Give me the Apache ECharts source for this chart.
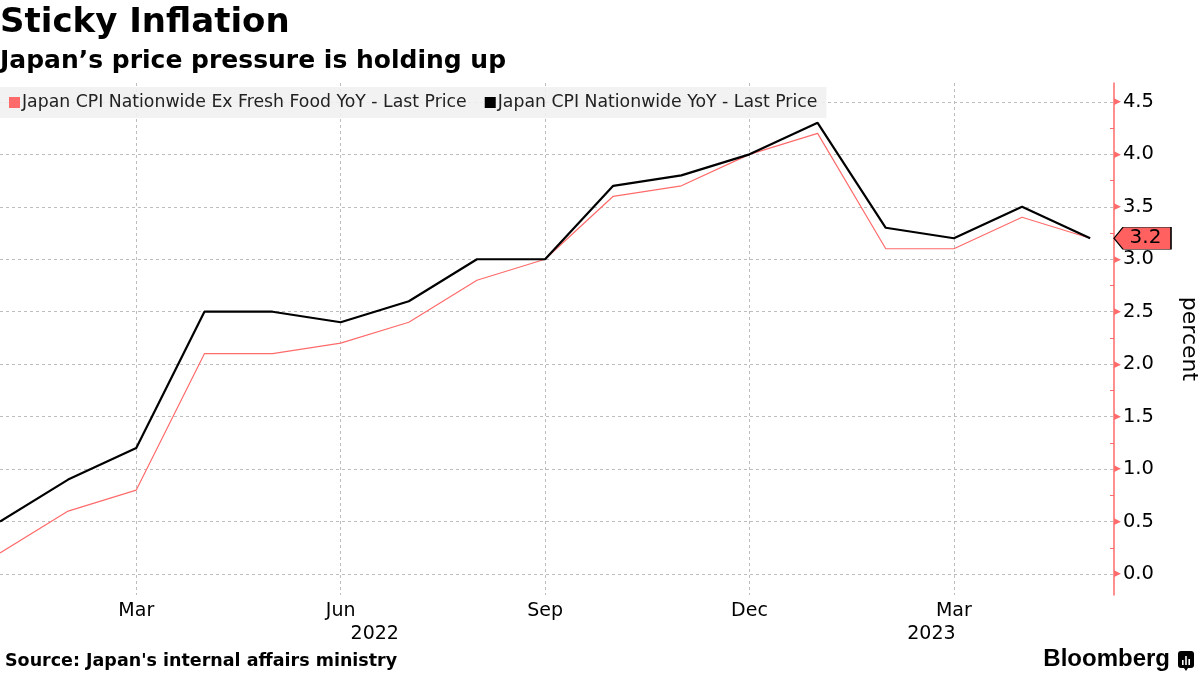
<!DOCTYPE html>
<html>
<head>
<meta charset="utf-8">
<script src="https://cdn.jsdelivr.net/npm/echarts@6/dist/echarts.min.js"></script>
<style>
html,body{margin:0;padding:0;background:#fff;}
#c{width:1200px;height:675px;}
</style>
</head>
<body>
<div id="c"></div>
<script>
// Data (monthly, Jan 2022 .. May 2023)
const months = ['2022-01','2022-02','2022-03','2022-04','2022-05','2022-06','2022-07','2022-08','2022-09','2022-10','2022-11','2022-12','2023-01','2023-02','2023-03','2023-04','2023-05'];
const coreCPI = [0.2,0.6,0.8,2.1,2.1,2.2,2.4,2.8,3.0,3.6,3.7,4.0,4.2,3.1,3.1,3.4,3.2];
const headlineCPI = [0.5,0.9,1.2,2.5,2.5,2.4,2.6,3.0,3.0,3.7,3.8,4.0,4.3,3.3,3.2,3.5,3.2];
const tickIndex = [2,5,8,11,14];
const tickNames = ['Mar','Jun','Sep','Dec','Mar'];
const yearNames = ['2022','2023'];
const yearPos = [5.5,13.67];
const seriesNames = ['Japan CPI Nationwide Ex Fresh Food YoY - Last Price','Japan CPI Nationwide YoY - Last Price'];

const RED = '#ff6b6b';
const X_MAX = 16.35;
const font = 'DejaVu Sans';

const chart = echarts.init(document.getElementById('c'), null, {renderer:'canvas'});
const pair = a => a.map((v,i)=>[i,v]);

const gridGrey = '#bdbdbd';

const option = {
  animation:false,
  textStyle:{fontFamily:font},
  title:[
    {text:'Sticky Inflation', left:0, top:6, padding:0, textStyle:{fontFamily:font,fontWeight:'bold',fontSize:34,color:'#000'}},
    {text:'Japan\u2019s price pressure is holding up', left:0, top:49, padding:0, textStyle:{fontFamily:font,fontWeight:'bold',fontSize:25,color:'#000'}},
    {text:"Source: Japan's internal affairs ministry", left:5, top:652, padding:0, textStyle:{fontFamily:font,fontWeight:'bold',fontSize:17.5,color:'#000'}}
  ],
  legend:{
    left:0, top:87, padding:[7,9,7,9], itemGap:18,
    backgroundColor:'rgba(240,240,240,0.88)',
    icon:'rect', itemWidth:11, itemHeight:11,
    textStyle:{fontFamily:font,fontSize:17.3,color:'#222',padding:[0,0,0,-3]},
    data:[{name:seriesNames[0],itemStyle:{color:RED}},{name:seriesNames[1],itemStyle:{color:'#000'}}]
  },
  grid:{left:0,right:86,top:83,bottom:80,containLabel:false,outerBoundsMode:'none'},
  xAxis:{
    type:'value', min:0, max:X_MAX, interval:1,
    axisLine:{show:false}, axisTick:{show:false},
    axisLabel:{
      margin:7, fontSize:19, color:'#000', fontFamily:font, showMaxLabel:false,
      formatter:v=>{const k=tickIndex.indexOf(Math.round(v)); return (k>=0 && Math.abs(v-Math.round(v))<1e-6)?tickNames[k]:'';}
    },
    splitLine:{show:true, showMaxLine:false, showMinLine:true, lineStyle:{color:['transparent','transparent',gridGrey],type:[3,3],width:1}}
  },
  yAxis:{
    type:'value', position:'right', min:-0.2, max:4.68, splitNumber:10,
    name:'percent', nameLocation:'middle', nameRotate:-90, nameGap:64,
    nameTextStyle:{fontFamily:font,fontSize:22,color:'#000'},
    axisLine:{show:true,onZero:false,lineStyle:{color:RED,width:1.5}},
    axisTick:{show:false,inside:true},
    minorTick:{show:true,splitNumber:2,length:4,lineStyle:{color:RED,width:1}},
    axisLabel:{
      margin:0, showMinLabel:false, showMaxLabel:false,
      formatter:v=>'{a|\u25B6}{b|'+v.toFixed(1)+'}',
      rich:{a:{fontSize:9,color:RED,padding:[0,2,0,0]},b:{fontSize:19.5,color:'#000',fontFamily:font}}
    },
    splitLine:{show:true, showMinLine:false, showMaxLine:false, lineStyle:{color:gridGrey,type:[3,3],width:1}}
  },
  series:[
    {name:seriesNames[0], type:'line', data:pair(coreCPI), symbol:'none', lineStyle:{color:RED,width:1.2}, itemStyle:{color:RED}},
    {name:seriesNames[1], type:'line', data:pair(headlineCPI), symbol:'none', lineStyle:{color:'#000',width:2.2}, itemStyle:{color:'#000'},
      markPoint:{
        symbol:'path://M0,11 L9,0 L57,0 L57,22 L9,22 Z', symbolSize:[57,22], symbolOffset:[28.5,0], symbolKeepAspect:false,
        itemStyle:{color:'#ff6161',borderColor:'#000',borderWidth:1},
        label:{show:true,position:'inside',offset:[3,0],fontSize:20,color:'#000',fontFamily:font,formatter:p=>p.value.toFixed(1)},
        data:[{coord:[X_MAX, headlineCPI[headlineCPI.length-1]], value:headlineCPI[headlineCPI.length-1]}]
      }
    }
  ]
};
chart.setOption(option);

// year labels placed through the x scale
const yearY = 634;
const graphics = yearNames.map((y,i)=>({
  type:'text', x:chart.convertToPixel({xAxisIndex:0}, yearPos[i]), y:yearY,
  style:{text:y, fontFamily:font, fontSize:19, fill:'#000', align:'center', verticalAlign:'middle'}
}));
// Bloomberg brand
graphics.push({type:'text', right:30, top:647, style:{text:'Bloomberg', fontFamily:'Liberation Sans', fontWeight:'bold', fontSize:24, fill:'#000'}});
graphics.push({type:'group', right:6, top:651, children:[
  {type:'rect', shape:{x:0,y:0,width:16,height:17,r:3}, style:{fill:'#000'}},
  {type:'polygon', shape:{points:[[6,17],[8,20],[10,17]]}, style:{fill:'#000'}},
  {type:'rect', shape:{x:4,y:9,width:1.6,height:5}, style:{fill:'#fff'}},
  {type:'rect', shape:{x:7.2,y:5,width:1.6,height:9}, style:{fill:'#fff'}},
  {type:'rect', shape:{x:10.4,y:8,width:1.6,height:6}, style:{fill:'#fff'}}
]});
chart.setOption({graphic:graphics});
</script>
</body>
</html>
